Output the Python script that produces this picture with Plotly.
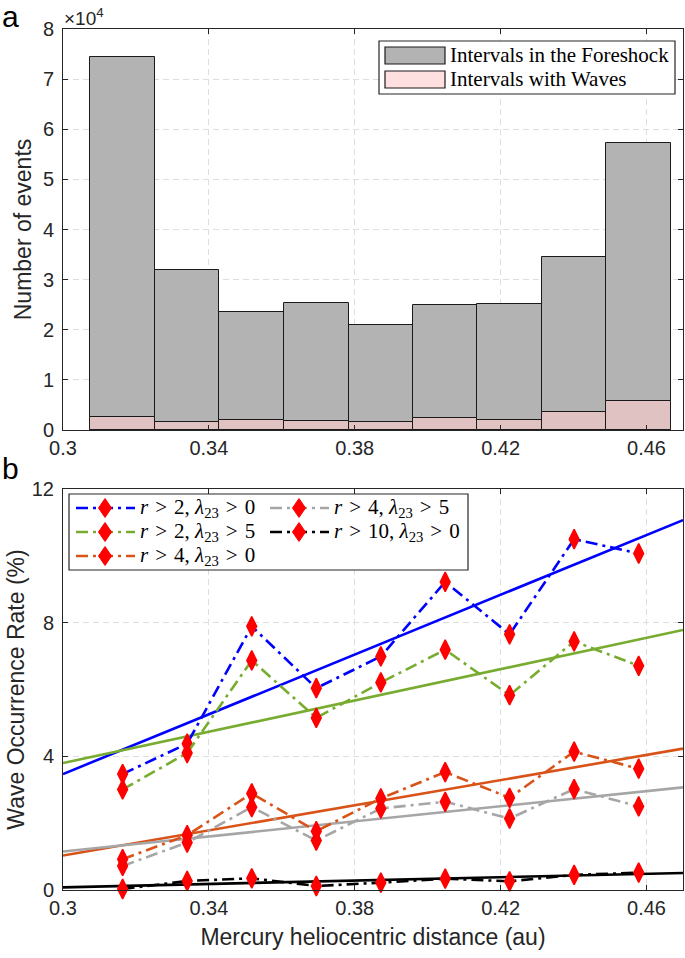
import numpy as np
import plotly.graph_objects as go

W, H = 685, 958
ML, MR, MT, MB = 63, 2, 29, 68

# panel a: histogram of intervals over Mercury's orbit (bin edges in au)
bin_edges = [0.3075, 0.3252, 0.3429, 0.3606, 0.3783, 0.3960, 0.4136, 0.4313, 0.4490, 0.4667]
foreshock_counts = [74500, 32000, 23500, 25400, 21000, 25000, 25100, 34500, 57300]
wave_counts = [2600, 1500, 1900, 1700, 1550, 2400, 2000, 3650, 5800]

# panel b: occurrence rate (%) per bin, one list per threshold
rate_r2_l0 = [3.47, 4.38, 7.89, 6.04, 6.99, 9.22, 7.65, 10.50, 10.07]
rate_r2_l5 = [3.01, 4.10, 6.87, 5.15, 6.21, 7.19, 5.83, 7.44, 6.71]
rate_r4_l0 = [0.92, 1.64, 2.89, 1.76, 2.74, 3.53, 2.76, 4.14, 3.63]
rate_r4_l5 = [0.72, 1.42, 2.48, 1.48, 2.44, 2.64, 2.14, 3.02, 2.50]
rate_r10_l0 = [0.03, 0.27, 0.35, 0.12, 0.22, 0.34, 0.26, 0.45, 0.52]

# linear fits, read at the panel edges
fit_x = [0.3, 0.47]
fit_r2_l0 = [3.47, 11.07]
fit_r2_l5 = [3.80, 7.78]
fit_r4_l0 = [1.03, 4.23]
fit_r4_l5 = [1.15, 3.07]
fit_r10_l0 = [0.08, 0.51]

x_ticks = [0.3, 0.34, 0.38, 0.42, 0.46]
x_ticktext = ["0.3", "0.34", "0.38", "0.42", "0.46"]
count_ticks = [0, 10000, 20000, 30000, 40000, 50000, 60000, 70000, 80000]
count_ticktext = ["0", "1", "2", "3", "4", "5", "6", "7", "8"]
rate_ticks = [0, 4, 8, 12]

SP = "\u2004"


def cond(r, lam):
    return f"<i>r</i>{SP}&gt;{SP}{r}, <i>λ</i><sub>23</sub>{SP}&gt;{SP}{lam}"


series = [
    (cond(2, 0), rate_r2_l0, fit_r2_l0, "#0000ff"),
    (cond(2, 5), rate_r2_l5, fit_r2_l5, "#77ac30"),
    (cond(4, 0), rate_r4_l0, fit_r4_l0, "#d95319"),
    (cond(4, 5), rate_r4_l5, fit_r4_l5, "#a6a6a6"),
    (cond(10, 0), rate_r10_l0, fit_r10_l0, "#000000"),
]

edges = np.array(bin_edges)
centers = (edges[:-1] + edges[1:]) / 2
widths = np.diff(edges)

AXC = "#262626"
GRID = "#dedede"
SANS = "Liberation Sans, Arial, sans-serif"
SERIF = "Liberation Serif, Times New Roman, serif"
DASHDOT = "12px,5px,3px,5px"


def px(x):
    return (x - ML) / (W - ML - MR)


def py(y):
    return (H - MB - y) / (H - MT - MB)


fig = go.Figure()

fig.add_trace(go.Bar(
    x=centers, y=foreshock_counts, width=widths,
    marker=dict(color="#b3b3b3", line=dict(color="#1a1a1a", width=1)),
    xaxis="x", yaxis="y", showlegend=False,
))
fig.add_trace(go.Bar(
    x=centers, y=wave_counts, width=widths,
    marker=dict(color="#e0c2c3", line=dict(color="#1a1a1a", width=1)),
    xaxis="x", yaxis="y", showlegend=False,
))

for name, rate, fit, color in series:
    fig.add_trace(go.Scatter(
        x=fit_x, y=fit, mode="lines",
        line=dict(color=color, width=2.6),
        xaxis="x2", yaxis="y2", showlegend=False,
    ))
for name, rate, fit, color in series:
    fig.add_trace(go.Scatter(
        x=centers, y=rate, mode="lines+markers",
        line=dict(color=color, width=2.6, dash=DASHDOT),
        marker=dict(symbol="diamond-tall", size=14, color="#ff0000",
                    line=dict(color="#ff0000", width=1.5)),
        xaxis="x2", yaxis="y2", showlegend=False, cliponaxis=False,
    ))

axis_common = dict(
    showline=True, linecolor=AXC, linewidth=1, mirror="allticks",
    ticks="inside", ticklen=5, tickcolor=AXC,
    showgrid=True, gridcolor=GRID, griddash="6px,4px", gridwidth=1,
    zeroline=False, tickfont=dict(family=SANS, size=20, color=AXC),
)
title_font = dict(family=SANS, size=23, color=AXC)

fig.update_layout(
    width=W, height=H,
    margin=dict(l=ML, r=MR, t=MT, b=MB),
    paper_bgcolor="white", plot_bgcolor="white",
    barmode="overlay", bargap=0,
    xaxis=dict(domain=[0, 1], range=[0.3, 0.47], anchor="y",
               tickvals=x_ticks, ticktext=x_ticktext, **axis_common),
    yaxis=dict(domain=[py(430), 1], range=[0, 80000], anchor="x",
               tickvals=count_ticks, ticktext=count_ticktext, ticklabelstandoff=4,
               title=dict(text="Number of events", standoff=4, font=title_font),
               **axis_common),
    xaxis2=dict(domain=[0, 1], range=[0.3, 0.47], anchor="y2",
                tickvals=x_ticks, ticktext=x_ticktext,
                title=dict(text="Mercury heliocentric distance (au)", standoff=10,
                           font=title_font),
                **axis_common),
    yaxis2=dict(domain=[0, py(489)], range=[0, 12], anchor="x2",
                tickvals=rate_ticks, ticklabelstandoff=4,
                title=dict(text="Wave Occurrence Rate (%)", standoff=0, font=title_font),
                **axis_common),
)

shapes = []
annotations = []


def label(text, x, y, font, xanchor="center"):
    annotations.append(dict(text=text, x=px(x), y=py(y), xref="paper", yref="paper",
                            xanchor=xanchor, yanchor="middle", showarrow=False, font=font))


# panel labels and exponent
label("a", 11, 17, dict(family=SANS, size=30, color="black"))
label("b", 11, 468, dict(family=SANS, size=30, color="black"))
label("×10<sup>4</sup>", 62, 17, dict(family=SANS, size=19, color=AXC), xanchor="left")

# legend for panel a
shapes.append(dict(type="rect", xref="paper", yref="paper",
                   x0=px(379), x1=px(675), y0=py(94), y1=py(41),
                   line=dict(color=AXC, width=1.2), fillcolor="white"))
for (text, fill, y0, y1) in [("Intervals in the Foreshock", "#b3b3b3", 47, 64),
                             ("Intervals with Waves", "#ffe0e0", 71, 88)]:
    shapes.append(dict(type="rect", xref="paper", yref="paper",
                       x0=px(385), x1=px(445), y0=py(y1), y1=py(y0),
                       line=dict(color="#1a1a1a", width=1.2), fillcolor=fill))
    label(text, 448, (y0 + y1) / 2, dict(family=SERIF, size=21, color="black"), xanchor="left")

# legend for panel b
shapes.append(dict(type="rect", xref="paper", yref="paper",
                   x0=px(69), x1=px(468), y0=py(570), y1=py(494),
                   line=dict(color=AXC, width=1.2), fillcolor="white"))
slots = [(76, 508), (76, 532), (76, 556), (270, 508), (270, 532)]
for (name, rate, fit, color), (lx, ly) in zip(series, slots):
    shapes.append(dict(type="line", xref="paper", yref="paper",
                       x0=px(lx), x1=px(lx + 59), y0=py(ly), y1=py(ly),
                       line=dict(color=color, width=2.6, dash=DASHDOT)))
    shapes.append(dict(type="path", xref="paper", yref="paper",
                       xsizemode="pixel", ysizemode="pixel",
                       xanchor=px(lx + 29), yanchor=py(ly),
                       path="M 0 -9.5 L 6.5 0 L 0 9.5 L -6.5 0 Z",
                       fillcolor="#ff0000", line=dict(color="#ff0000", width=1)))
    label(name, lx + 62, ly, dict(family=SERIF, size=21, color="black"), xanchor="left")

fig.update_layout(shapes=shapes, annotations=annotations)

fig.write_html("out.html", config={"displayModeBar": False},
               post_script="document.body.style.margin='0';")
